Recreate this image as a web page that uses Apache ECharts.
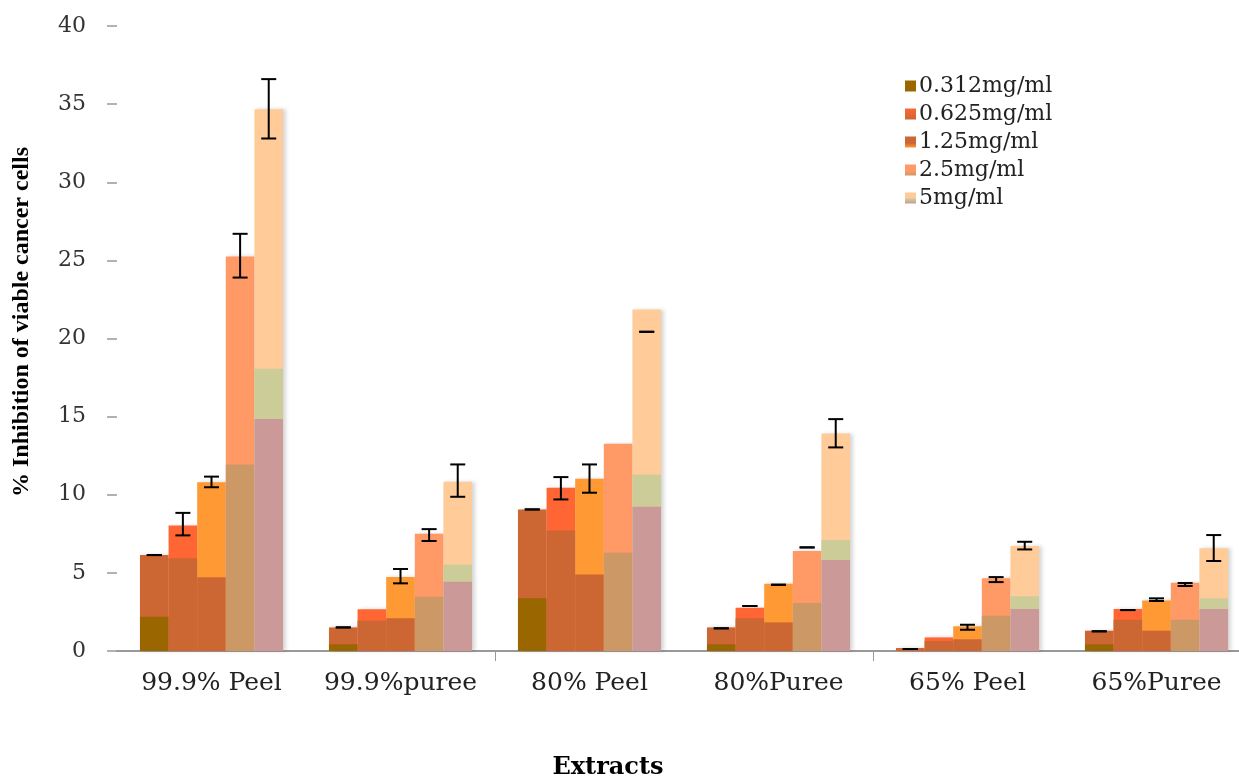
<!DOCTYPE html>
<html>
<head>
<meta charset="utf-8">
<script src="https://cdn.jsdelivr.net/npm/echarts@6/dist/echarts.min.js"></script>
<style>
  html, body { margin: 0; padding: 0; background: #ffffff; }
  #chart { width: 1239px; height: 780px; }
</style>
</head>
<body>
<div id="chart"></div>
<script>
// ---------------- data ----------------
const categories = ['99.9% Peel', '99.9%puree', '80% Peel', '80%Puree', '65% Peel', '65%Puree'];
const concentrations = ['0.312mg/ml', '0.625mg/ml', '1.25mg/ml', '2.5mg/ml', '5mg/ml'];
const yTicks = [0, 5, 10, 15, 20, 25, 30, 35, 40];

// main (outer) bar heights per concentration
const main0312 = [6.14, 1.51, 9.06, 1.51, 0.19, 1.30];
const main0625 = [8.03, 2.67, 10.45, 2.77, 0.87, 2.69];
const main125  = [10.8, 4.73, 11.02, 4.31, 1.58, 3.24];
const main25   = [25.25, 7.5, 13.26, 6.4, 4.65, 4.37];
const main5    = [34.67, 10.83, 21.85, 13.92, 6.72, 6.57];

// inner overlaid layers
const inner0312 = [2.2, 0.43, 3.37, 0.43, '-', 0.43];
const inner0625 = [5.93, 1.94, 7.72, 2.09, 0.64, 2.0];
const inner125  = [4.72, 2.09, 4.9, 1.83, 0.75, 1.3];
const inner25   = [11.94, 3.48, 6.29, 3.07, 2.26, 2.0];
const inner5a   = [18.06, 5.54, 11.3, 7.1, 3.5, 3.37];
const inner5b   = [14.85, 4.43, 9.23, 5.82, 2.69, 2.69];

// error bar low / high ends (null = no error bar)
const errLow0312  = [6.14, 1.51, 9.06, 1.45, 0.13, 1.26];
const errHigh0312 = [6.14, 1.51, 9.06, 1.45, 0.13, 1.26];
const errLow0625  = [7.4, null, 9.7, 2.88, null, 2.62];
const errHigh0625 = [8.84, null, 11.13, 2.88, null, 2.62];
const errLow125   = [10.48, 4.33, 10.13, 4.24, 1.36, 3.2];
const errHigh125  = [11.16, 5.25, 11.94, 4.24, 1.68, 3.37];
const errLow25    = [23.9, 7.04, null, 6.63, 4.41, 4.16];
const errHigh25   = [26.7, 7.8, null, 6.63, 4.73, 4.35];
const errLow5     = [32.8, 9.87, 20.43, 13.03, 6.5, 5.76];
const errHigh5    = [36.6, 11.94, 20.43, 14.84, 6.99, 7.42];

// ---------------- styling ----------------
const topColors    = ['#CC6633', '#FF6633', '#FF9933', '#FF9966', '#FFCC99'];
const layer1Colors = ['#996600', '#CC6633', '#CC6633', '#CC9966', '#CCCC99'];
const layer2Colors = ['#CC9999', '#CC9999', '#CC9999', '#CC9999', '#CC9999'];
const CAT_GAP = 0.243;

const mainData = [main0312, main0625, main125, main25, main5];
const layer1Data = [inner0312, inner0625, inner125, inner25, inner5a];
const empty = categories.map(() => '-');
const layer2Data = [empty, empty, empty, empty, inner5b];
const errLows = [errLow0312, errLow0625, errLow125, errLow25, errLow5];
const errHighs = [errHigh0312, errHigh0625, errHigh125, errHigh25, errHigh5];

const series = [];
function addLayer(dataArr, colors, axisIdx, withShadow) {
  dataArr.forEach((d, i) => {
    const st = { color: colors[i] };
    if (withShadow) {
      st.shadowColor = 'rgba(0,0,0,0.16)';
      st.shadowBlur = 4;
      st.shadowOffsetX = 3;
    }
    series.push({
      type: 'bar',
      name: concentrations[i],
      xAxisIndex: axisIdx,
      data: d,
      barGap: 0,
      barCategoryGap: (CAT_GAP * 100) + '%',
      itemStyle: st,
      emphasis: { disabled: true },
      animation: false
    });
  });
}
addLayer(mainData, topColors, 0, true);
addLayer(layer1Data, layer1Colors, 1, false);
addLayer(layer2Data, layer2Colors, 2, false);

const errData = [];
errLows.forEach((lows, s) => {
  lows.forEach((lo, c) => {
    if (lo !== null && errHighs[s][c] !== null) errData.push([c, s, lo, errHighs[s][c]]);
  });
});

series.push({
  type: 'custom',
  name: 'err',
  xAxisIndex: 0,
  z: 10,
  animation: false,
  encode: { x: 0, y: [2, 3] },
  data: errData,
  renderItem: function (params, api) {
    const c = api.value(0), s = api.value(1), lo = api.value(2), hi = api.value(3);
    const band = api.size([1, 0])[0];
    const bw = band * (1 - CAT_GAP) / 5;
    const cx = api.coord([c, 0])[0] + (s - 2) * bw;
    const yl = api.coord([c, lo])[1];
    const yh = api.coord([c, hi])[1];
    const hw = 7.5;
    const ls = { stroke: '#000', lineWidth: 2 };
    return {
      type: 'group',
      children: [
        { type: 'line', shape: { x1: cx, y1: yl, x2: cx, y2: yh }, style: ls },
        { type: 'line', shape: { x1: cx - hw, y1: yh, x2: cx + hw, y2: yh }, style: ls },
        { type: 'line', shape: { x1: cx - hw, y1: yl, x2: cx + hw, y2: yl }, style: ls }
      ]
    };
  }
});

function mkGrad(stops) {
  return new echarts.graphic.LinearGradient(0, 0, 0, 1, stops);
}

const hiddenAxis = () => ({
  type: 'category', data: categories, gridIndex: 0, show: false
});

const chart = echarts.init(document.getElementById('chart'), null, { renderer: 'canvas' });
chart.setOption({
  backgroundColor: '#ffffff',
  animation: false,
  grid: { left: 117, top: 26, width: 1134, height: 625, outerBoundsMode: 'none', containLabel: false },
  legend: {
    orient: 'vertical',
    left: 900,
    top: 70,
    itemWidth: 11,
    itemHeight: 11,
    itemGap: 6,
    icon: 'rect',
    textStyle: { fontFamily: 'DejaVu Serif', fontSize: 22, color: '#222', padding: [0, 0, 0, -2] },
    data: [
      { name: concentrations[0], itemStyle: { color: '#996600' } },
      { name: concentrations[1], itemStyle: { color: mkGrad([{ offset: 0, color: '#FF6633' }, { offset: 1, color: '#CC6633' }]) } },
      { name: concentrations[2], itemStyle: { color: mkGrad([{ offset: 0, color: '#CC6633' }, { offset: 0.6, color: '#CC6633' }, { offset: 1, color: '#FF9933' }]) } },
      { name: concentrations[3], itemStyle: { color: mkGrad([{ offset: 0, color: '#FF9966' }, { offset: 0.6, color: '#FF9966' }, { offset: 1, color: '#CC9966' }]) } },
      { name: concentrations[4], itemStyle: { color: mkGrad([{ offset: 0, color: '#FFCC99' }, { offset: 0.45, color: '#FFCC99' }, { offset: 0.6, color: '#CCCC99' }, { offset: 1, color: '#CC9999' }]) } }
    ]
  },
  xAxis: [
    {
      type: 'category',
      data: categories,
      boundaryGap: true,
      axisLine: { show: true, lineStyle: { color: '#999', width: 2 } },
      axisTick: { show: true, interval: function (idx) { return idx === 2 || idx === 4; }, length: 10, lineStyle: { color: '#999', width: 1 } },
      axisLabel: { interval: 0, margin: 20, fontFamily: 'DejaVu Serif', fontSize: 25, color: '#222' },
      splitLine: { show: false }
    },
    hiddenAxis(),
    hiddenAxis()
  ],
  yAxis: {
    type: 'value',
    min: yTicks[0],
    max: yTicks[yTicks.length - 1],
    interval: 5,
    axisLine: { show: false },
    axisTick: { show: true, length: 10, lineStyle: { color: '#999', width: 1.5 } },
    axisLabel: { margin: 31, fontFamily: 'DejaVu Serif', fontSize: 22, color: '#333' },
    splitLine: { show: false }
  },
  graphic: [
    {
      type: 'text',
      x: 22, y: 322,
      rotation: Math.PI / 2,
      style: {
        text: '% Inhibition of viable cancer cells',
        font: 'bold 24px "Liberation Serif"',
        fill: '#000',
        textAlign: 'center',
        textVerticalAlign: 'middle'
      }
    },
    {
      type: 'text',
      x: 608, y: 768,
      style: {
        text: 'Extracts',
        font: 'bold 24px "DejaVu Serif"',
        fill: '#000',
        textAlign: 'center',
        textVerticalAlign: 'middle'
      }
    }
  ],
  series: series
});
</script>
</body>
</html>
